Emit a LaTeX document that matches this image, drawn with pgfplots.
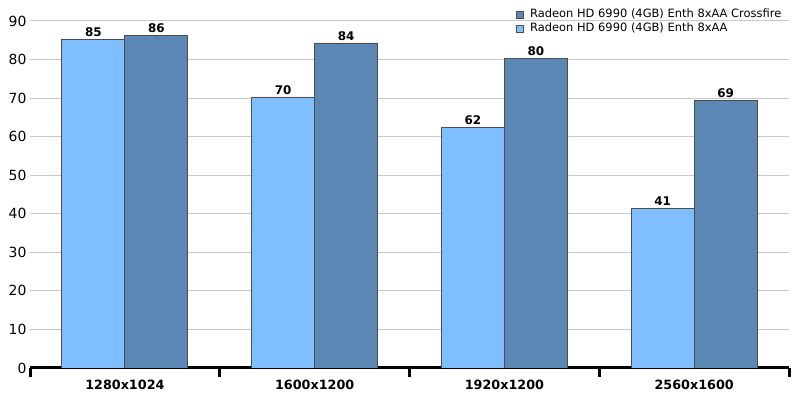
\documentclass[border=0pt]{standalone}
\usepackage{pgfplots}
\pgfplotsset{compat=1.18}
\usepackage{fontspec}
\setmainfont{DejaVu Sans}
\definecolor{lightbar}{RGB}{128,191,255}
\definecolor{darkbar}{RGB}{91,135,181}
\definecolor{gridc}{RGB}{200,200,200}
\begin{document}
\begin{tikzpicture}
\begin{axis}[
  scale only axis,
  width=759bp, height=347bp,
  xmin=-0.5, xmax=3.5, ymin=0, ymax=90,
  axis x line*=bottom, axis y line*=left,
  y axis line style={draw=none},
  x axis line style={line width=3bp, -},
  xtick={0,1,2,3},
  xticklabels={1280x1024,1600x1200,1920x1200,2560x1600},
  minor xtick={-0.5,0.5,1.5,2.5,3.5},
  major tick length=0pt,
  minor tick length=9bp,
  xtick align=outside,
  every minor tick/.style={line width=3bp, black},
  ytick={0,10,...,90},
  ytick style={draw=none},
  ymajorgrids,
  grid style={gridc, line width=1bp},
  /pgf/number format/assume math mode=true,
  yticklabel style={font=\fontsize{14}{16}\selectfont, xshift=0bp},
  xticklabel style={font=\fontsize{12.8}{14}\selectfont\bfseries, yshift=-9bp},
  point meta=explicit symbolic,
  nodes near coords,
  every node near coord/.append style={font=\fontsize{12}{14}\selectfont\bfseries, inner sep=2bp, anchor=south},
  legend style={draw=none, fill=none, at={(axis description cs:0.640,1.040)}, anchor=north west,
    font=\fontsize{11.5}{13}\selectfont, inner sep=0pt, row sep=0pt,
    nodes={inner sep=1.5bp, text height=8.5bp, text depth=2.5bp, anchor=west}},
  legend cell align=left,
  legend image code/.code={\draw[#1, line width=0.6bp] (0bp,-3.5bp) rectangle (7bp,3.5bp);
    \path (12bp,0bp);},
]
\addplot[ybar, bar width=0.332, bar shift=0.166, fill=darkbar, draw=black!70, line width=0.8bp,
  every node near coord/.append style={xshift=31.5bp}]
  coordinates {(0,86.3) [86] (1,84.3) [84] (2,80.3) [80] (3,69.4) [69]};
\addlegendentry{Radeon HD 6990 (4GB) Enth 8xAA Crossfire}
\addplot[ybar, bar width=0.332, bar shift=-0.166, fill=lightbar, draw=black!70, line width=0.8bp,
  every node near coord/.append style={xshift=-31.5bp}]
  coordinates {(0,85.3) [85] (1,70.3) [70] (2,62.4) [62] (3,41.4) [41]};
\addlegendentry{Radeon HD 6990 (4GB) Enth 8xAA}
\end{axis}
\pgfresetboundingbox
\path[use as bounding box] ([shift={(-30bp,-31bp)}]current axis.south west) rectangle ([shift={(9bp,21bp)}]current axis.north east);
\end{tikzpicture}
\end{document}
